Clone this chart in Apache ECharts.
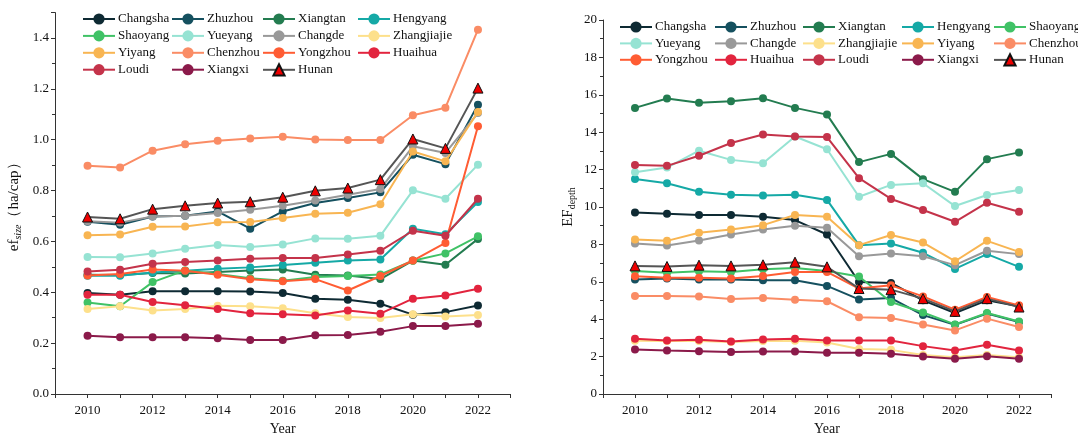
<!DOCTYPE html>
<html>
<head>
<meta charset="utf-8">
<script src="https://cdn.jsdelivr.net/npm/echarts@6/dist/echarts.min.js"></script>
<style>
  html, body { margin: 0; padding: 0; background: #fff; }
  #chart { width: 1078px; height: 434px; }
</style>
</head>
<body>
<div id="chart"></div>
<script>
// Years on the horizontal axis
const years = [2010, 2011, 2012, 2013, 2014, 2015, 2016, 2017, 2018, 2019, 2020, 2021, 2022];

const cities = ['Changsha', 'Zhuzhou', 'Xiangtan', 'Hengyang', 'Shaoyang', 'Yueyang', 'Changde',
  'Zhangjiajie', 'Yiyang', 'Chenzhou', 'Yongzhou', 'Huaihua', 'Loudi', 'Xiangxi', 'Hunan'];

// Footprint size (ha/cap)
const sizeChangsha    = [0.397, 0.390, 0.404, 0.404, 0.404, 0.403, 0.397, 0.375, 0.371, 0.355, 0.312, 0.322, 0.348];
const sizeZhuzhou     = [0.677, 0.666, 0.698, 0.701, 0.718, 0.650, 0.718, 0.751, 0.771, 0.793, 0.941, 0.904, 1.138];
const sizeXiangtan    = [0.469, 0.468, 0.476, 0.474, 0.480, 0.486, 0.490, 0.469, 0.466, 0.452, 0.525, 0.508, 0.610];
const sizeHengyang    = [0.465, 0.465, 0.478, 0.485, 0.493, 0.498, 0.507, 0.516, 0.525, 0.529, 0.650, 0.628, 0.755];
const sizeShaoyang    = [0.360, 0.345, 0.440, 0.486, 0.472, 0.455, 0.445, 0.460, 0.464, 0.470, 0.524, 0.553, 0.620];
const sizeYueyang     = [0.539, 0.538, 0.553, 0.571, 0.586, 0.578, 0.588, 0.612, 0.611, 0.622, 0.801, 0.768, 0.902];
const sizeChangde     = [0.679, 0.674, 0.698, 0.701, 0.712, 0.725, 0.740, 0.761, 0.784, 0.806, 0.974, 0.948, 1.105];
const sizeZhangjiajie = [0.334, 0.345, 0.328, 0.334, 0.347, 0.345, 0.337, 0.318, 0.303, 0.299, 0.314, 0.305, 0.311];
const sizeYiyang      = [0.624, 0.627, 0.658, 0.659, 0.675, 0.676, 0.692, 0.709, 0.713, 0.746, 0.954, 0.915, 1.109];
const sizeChenzhou    = [0.898, 0.891, 0.957, 0.982, 0.996, 1.005, 1.012, 1.001, 0.999, 0.999, 1.096, 1.126, 1.433];
const sizeYongzhou    = [0.466, 0.472, 0.490, 0.485, 0.469, 0.451, 0.443, 0.452, 0.407, 0.464, 0.525, 0.594, 1.053];
const sizeHuaihua     = [0.390, 0.390, 0.362, 0.349, 0.334, 0.318, 0.314, 0.309, 0.328, 0.316, 0.375, 0.387, 0.414];
const sizeLoudi       = [0.482, 0.489, 0.512, 0.519, 0.525, 0.532, 0.535, 0.535, 0.549, 0.563, 0.642, 0.622, 0.768];
const sizeXiangxi     = [0.229, 0.223, 0.223, 0.223, 0.219, 0.212, 0.212, 0.231, 0.232, 0.245, 0.267, 0.267, 0.276];
const sizeHunan       = [0.696, 0.689, 0.727, 0.740, 0.751, 0.756, 0.774, 0.799, 0.810, 0.843, 1.003, 0.966, 1.203];

// Footprint depth
const depthChangsha    = [9.70, 9.64, 9.57, 9.57, 9.48, 9.30, 8.53, 5.99, 5.94, 5.01, 4.33, 5.01, 4.69];
const depthZhuzhou     = [6.12, 6.17, 6.12, 6.12, 6.08, 6.08, 5.78, 5.06, 5.13, 4.22, 3.70, 4.30, 3.85];
const depthXiangtan    = [15.30, 15.80, 15.58, 15.65, 15.81, 15.30, 14.94, 12.40, 12.84, 11.49, 10.81, 12.56, 12.92];
const depthHengyang    = [11.50, 11.27, 10.82, 10.66, 10.61, 10.66, 10.38, 7.96, 8.05, 7.55, 6.69, 7.48, 6.80];
const depthShaoyang    = [6.58, 6.48, 6.57, 6.53, 6.67, 6.74, 6.58, 6.28, 4.92, 4.36, 3.72, 4.33, 3.88];
const depthYueyang     = [11.86, 12.11, 13.01, 12.52, 12.34, 13.77, 13.09, 10.55, 11.18, 11.27, 10.05, 10.64, 10.91];
const depthChangde     = [8.05, 7.94, 8.21, 8.53, 8.80, 9.00, 8.89, 7.37, 7.51, 7.37, 6.89, 7.66, 7.48];
const depthZhangjiajie = [2.85, 2.83, 2.83, 2.78, 2.83, 2.85, 2.75, 2.41, 2.36, 2.09, 1.97, 2.09, 1.97];
const depthYiyang      = [8.26, 8.19, 8.62, 8.80, 9.03, 9.57, 9.48, 7.96, 8.50, 8.10, 7.10, 8.19, 7.60];
const depthChenzhou    = [5.24, 5.24, 5.22, 5.08, 5.13, 5.04, 4.96, 4.11, 4.06, 3.72, 3.40, 4.03, 3.58];
const depthYongzhou    = [6.30, 6.21, 6.21, 6.17, 6.31, 6.53, 6.53, 5.64, 5.81, 5.22, 4.51, 5.19, 4.74];
const depthHuaihua     = [2.95, 2.86, 2.90, 2.81, 2.92, 2.95, 2.86, 2.86, 2.86, 2.56, 2.33, 2.63, 2.33];
const depthLoudi       = [12.25, 12.20, 12.74, 13.42, 13.88, 13.77, 13.74, 11.54, 10.43, 9.84, 9.21, 10.23, 9.75];
const depthXiangxi     = [2.38, 2.33, 2.29, 2.24, 2.27, 2.27, 2.20, 2.20, 2.15, 2.00, 1.88, 2.02, 1.88];
const depthHunan       = [6.85, 6.82, 6.89, 6.85, 6.91, 7.05, 6.80, 5.64, 5.58, 5.10, 4.42, 5.10, 4.65];

const sizeData = [sizeChangsha, sizeZhuzhou, sizeXiangtan, sizeHengyang, sizeShaoyang, sizeYueyang, sizeChangde,
  sizeZhangjiajie, sizeYiyang, sizeChenzhou, sizeYongzhou, sizeHuaihua, sizeLoudi, sizeXiangxi, sizeHunan];
const depthData = [depthChangsha, depthZhuzhou, depthXiangtan, depthHengyang, depthShaoyang, depthYueyang, depthChangde,
  depthZhangjiajie, depthYiyang, depthChenzhou, depthYongzhou, depthHuaihua, depthLoudi, depthXiangxi, depthHunan];

const colors = ['#0e2a33', '#15505f', '#237c50', '#15a9a6', '#40c266', '#96e3d3', '#999999',
  '#fde08b', '#f8b552', '#fa8c65', '#ff5c33', '#e2243e', '#c4334a', '#8b1a4a', '#555555'];

const FONT = 'Liberation Serif';
const chart = echarts.init(document.getElementById('chart'), null, { renderer: 'canvas' });

function makeSeries(data, axisIndex) {
  return cities.map((name, i) => {
    const isTotal = name === 'Hunan';
    return {
      name: name,
      type: 'line',
      xAxisIndex: axisIndex,
      yAxisIndex: axisIndex,
      data: years.map((y, k) => [y, data[i][k]]),
      symbol: isTotal ? 'triangle' : 'circle',
      symbolSize: isTotal ? 10 : 8,
      lineStyle: { width: 2, color: colors[i] },
      itemStyle: isTotal
        ? { color: '#ee0000', borderColor: '#111', borderWidth: 1 }
        : { color: colors[i] },
      emphasis: { disabled: true },
      z: 2 + i
    };
  });
}

function xAxisCfg(gridIndex) {
  return {
    type: 'value', gridIndex: gridIndex, min: 2009, max: 2023, interval: 1,
    name: 'Year', nameLocation: 'middle', nameGap: 28,
    nameTextStyle: { fontFamily: FONT, fontSize: 14, color: '#111' },
    axisLine: { show: true, lineStyle: { color: '#333', width: 1 } },
    axisTick: { show: true, length: 4, lineStyle: { color: '#333' } },
    splitLine: { show: false },
    axisLabel: {
      fontFamily: FONT, fontSize: 13, color: '#111', margin: 10,
      formatter: v => (v % 2 === 0 ? String(v) : '')
    }
  };
}

function legendCol(names, left, top, gap) {
  return {
    data: names, orient: 'vertical', left: left, top: top,
    itemWidth: 32, itemHeight: 14, itemGap: gap, selectedMode: false,
    textStyle: { fontFamily: FONT, fontSize: 13, color: '#111', padding: [0, 0, 0, -2] }
  };
}

const option = {
  animation: false,
  backgroundColor: '#fff',
  grid: [
    { left: 55, right: 567.5, top: 12.6, bottom: 40, outerBoundsMode: 'none', containLabel: false },
    { left: 603, right: 27, top: 20, bottom: 40, outerBoundsMode: 'none', containLabel: false }
  ],
  legend: [
    legendCol(['Changsha', 'Shaoyang', 'Yiyang', 'Loudi'], 77, 7.5, 3.9),
    legendCol(['Zhuzhou', 'Yueyang', 'Chenzhou', 'Xiangxi'], 166, 7.5, 3.9),
    legendCol(['Xiangtan', 'Changde', 'Yongzhou', 'Hunan'], 257, 7.5, 3.9),
    legendCol(['Hengyang', 'Zhangjiajie', 'Huaihua'], 352, 7.5, 3.9),
    legendCol(['Changsha', 'Yueyang', 'Yongzhou'], 614, 15.5, 3.4),
    legendCol(['Zhuzhou', 'Changde', 'Huaihua'], 709, 15.5, 3.4),
    legendCol(['Xiangtan', 'Zhangjiajie', 'Loudi'], 797, 15.5, 3.4),
    legendCol(['Hengyang', 'Yiyang', 'Xiangxi'], 896, 15.5, 3.4),
    legendCol(['Shaoyang', 'Chenzhou', 'Hunan'], 988, 15.5, 3.4)
  ],
  xAxis: [xAxisCfg(0), xAxisCfg(1)],
  yAxis: [
    {
      type: 'value', gridIndex: 0, min: 0, max: 1.5, interval: 0.2,
      name: '{a|ef}{s|size}{a|（ha/cap）}', nameLocation: 'middle', nameGap: 32,
      nameTextStyle: {
        fontFamily: FONT, color: '#111',
        rich: {
          a: { fontFamily: FONT, fontSize: 15, color: '#111', lineHeight: 18, verticalAlign: 'middle' },
          s: { fontFamily: FONT, fontSize: 10, color: '#111', fontStyle: 'italic', lineHeight: 12, verticalAlign: 'bottom' }
        }
      },
      axisLine: { show: true, lineStyle: { color: '#333', width: 1 } },
      axisTick: { show: true, length: 4, lineStyle: { color: '#333' } },
      minorTick: { show: true, splitNumber: 2, length: 3, lineStyle: { color: '#333' } },
      splitLine: { show: false },
      axisLabel: {
        fontFamily: FONT, fontSize: 13, color: '#111', margin: 6, showMaxLabel: false,
        formatter: v => v.toFixed(1)
      }
    },
    {
      type: 'value', gridIndex: 1, min: 0, max: 20, interval: 2,
      name: '{a|EF}{s|depth}', nameLocation: 'middle', nameGap: 26,
      nameTextStyle: {
        fontFamily: FONT, color: '#111',
        rich: {
          a: { fontFamily: FONT, fontSize: 15, color: '#111', lineHeight: 18, verticalAlign: 'middle' },
          s: { fontFamily: FONT, fontSize: 10, color: '#111', lineHeight: 12, verticalAlign: 'bottom' }
        }
      },
      axisLine: { show: true, lineStyle: { color: '#333', width: 1 } },
      axisTick: { show: true, length: 4, lineStyle: { color: '#333' } },
      minorTick: { show: true, splitNumber: 2, length: 3, lineStyle: { color: '#333' } },
      splitLine: { show: false },
      axisLabel: { fontFamily: FONT, fontSize: 13, color: '#111', margin: 6 }
    }
  ],
  series: makeSeries(sizeData, 0).concat(makeSeries(depthData, 1))
};

chart.setOption(option);
</script>
</body>
</html>
